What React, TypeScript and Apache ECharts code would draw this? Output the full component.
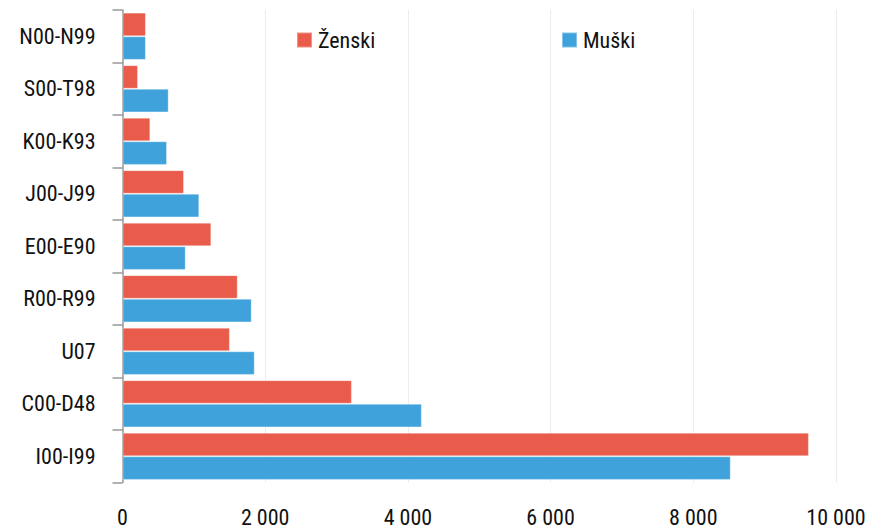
import React, { useEffect, useRef } from "react";
import * as echarts from "echarts";

const categories = ["I00-I99", "C00-D48", "U07", "R00-R99", "E00-E90", "J00-J99", "K00-K93", "S00-T98", "N00-N99"];
const zenski = [9620, 3215, 1505, 1615, 1245, 862, 390, 217, 328];
const muski = [8525, 4195, 1853, 1811, 886, 1076, 624, 647, 328];
const seriesNames = ["Ženski", "Muški"];
const xTicks = { min: 0, max: 10000, interval: 2000 };

const FONT = "'Roboto Condensed', 'Liberation Sans Narrow', 'DejaVu Sans Condensed', sans-serif";
const FS = 22;
const RED = "#E95B4B";
const BLUE = "#3FA2DB";

export default function App() {
  const ref = useRef<HTMLDivElement>(null);
  useEffect(() => {
    document.body.style.margin = "0";
    document.body.style.overflow = "hidden";
    if (!ref.current) return;
    const chart = echarts.init(ref.current, null, { renderer: "svg" });
    const legendBase = {
      top: 29,
      padding: 0,
      icon: "rect",
      itemWidth: 15,
      itemHeight: 15,
      itemGap: 6,
      textStyle: { fontFamily: FONT, fontSize: FS, color: "#111", padding: [0, 0, 0, 1] },
    };
    chart.setOption({
      animation: false,
      textStyle: { fontFamily: FONT },
      grid: { left: 122.5, right: 33, top: 10, bottom: 46.5, containLabel: false },
      legend: [
        { ...legendBase, data: [seriesNames[0]], left: 296 },
        { ...legendBase, data: [seriesNames[1]], left: 561 },
      ],
      xAxis: {
        type: "value",
        min: xTicks.min,
        max: xTicks.max,
        interval: xTicks.interval,
        axisLine: { show: false },
        axisTick: { show: false },
        splitLine: { show: true, lineStyle: { color: "#ececec", width: 1 } },
        axisLabel: {
          fontFamily: FONT,
          fontSize: FS,
          color: "#111",
          margin: 24,
          formatter: (v: number) => String(v).replace(/\B(?=(\d{3})+(?!\d))/g, " "),
        },
      },
      yAxis: {
        type: "category",
        data: categories,
        axisLine: { show: true, lineStyle: { color: "#999", width: 1.5 } },
        axisTick: { show: true, length: 10, lineStyle: { color: "#999", width: 1.5 } },
        splitLine: { show: false },
        axisLabel: { fontFamily: FONT, fontSize: FS, color: "#111", margin: 27 },
      },
      series: [
        {
          name: seriesNames[0],
          type: "bar",
          data: zenski,
          barGap: "0%",
          barCategoryGap: "10%",
          itemStyle: { color: RED, borderColor: "rgba(255,255,255,0.35)", borderWidth: 1 },
        },
        {
          name: seriesNames[1],
          type: "bar",
          data: muski,
          barGap: "0%",
          barCategoryGap: "10%",
          itemStyle: { color: BLUE, borderColor: "rgba(255,255,255,0.35)", borderWidth: 1 },
        },
      ],
    });
    return () => chart.dispose();
  }, []);
  return (
    <div
      ref={ref}
      style={{ position: "absolute", left: 0, top: 0, width: 869, height: 529 }}
    />
  );
}
